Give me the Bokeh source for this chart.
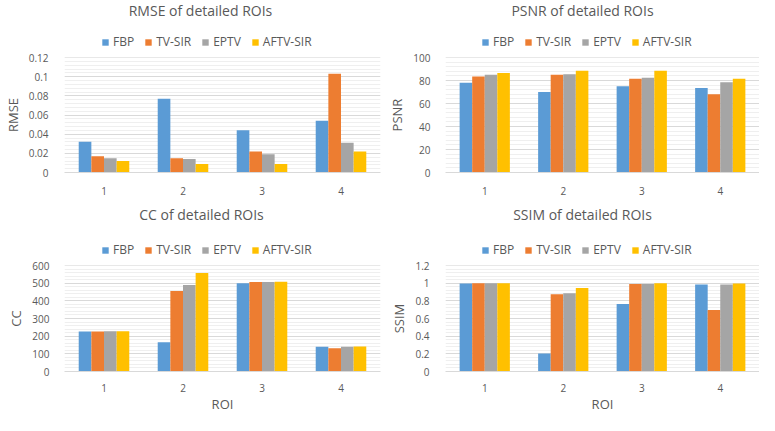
from bokeh.plotting import figure
from bokeh.layouts import gridplot
from bokeh.models import (ColumnDataSource, FactorRange, Range1d, Legend, LegendItem,
                          SingleIntervalTicker, CustomJSTickFormatter, Label)
from bokeh.transform import dodge
from bokeh.embed import file_html
from bokeh.resources import INLINE

rois = ["1", "2", "3", "4"]
methods = ["FBP", "TV-SIR", "EPTV", "AFTV-SIR"]
colors = ["#5B9BD5", "#ED7D31", "#A5A5A5", "#FFC000"]

rmse_fbp = [0.032, 0.077, 0.044, 0.054]
rmse_tv = [0.017, 0.015, 0.022, 0.103]
rmse_eptv = [0.015, 0.014, 0.019, 0.031]
rmse_aftv = [0.012, 0.009, 0.009, 0.022]

psnr_fbp = [78, 70, 75, 73.5]
psnr_tv = [83.5, 85, 81.5, 68]
psnr_eptv = [85, 85.5, 82.5, 78.5]
psnr_aftv = [86.5, 88.5, 88.5, 81.5]

cc_fbp = [226, 165, 500, 140]
cc_tv = [226, 455, 506, 132]
cc_eptv = [228, 490, 506, 140]
cc_aftv = [228, 558, 508, 142]

ssim_fbp = [0.995, 0.205, 0.765, 0.985]
ssim_tv = [0.998, 0.875, 0.99, 0.695]
ssim_eptv = [0.998, 0.885, 0.99, 0.985]
ssim_aftv = [0.998, 0.945, 1.0, 0.995]

FONT = "Open Sans"
TXT = "#595959"


def header(title, width, height, title_x, title_y, leg_x, leg_y):
    """Title and legend strip above a chart (positions in screen pixels of its frame)."""
    h = figure(width=width, height=height, x_range=Range1d(0, 1), y_range=Range1d(0, 1),
               output_backend="svg", toolbar_location=None,
               x_axis_location=None, y_axis_location=None,
               min_border_left=0, min_border_right=0, min_border_top=0, min_border_bottom=0)
    h.grid.visible = False
    h.outline_line_color = None
    items = []
    for col, name in zip(colors, methods):
        r = h.vbar(x=0, top=0, width=0, fill_color=col, line_color=None, visible=False)
        items.append(LegendItem(label=name, renderers=[r]))
    leg = Legend(items=items, orientation="horizontal", location=(leg_x, leg_y),
                 background_fill_alpha=0, border_line_color=None,
                 label_text_font=FONT, label_text_font_size="12px", label_text_color=TXT,
                 glyph_width=8, glyph_height=8, label_standoff=4, spacing=10, padding=0, margin=0,
                 label_height=12, label_width=0)
    h.add_layout(leg, "center")
    h.add_layout(Label(x=title_x, y=title_y, x_units="screen", y_units="screen", text=title,
                       text_align="center", text_baseline="middle",
                       text_font=FONT, text_font_size="14px", text_color=TXT))
    return h


def chart(ylabel, series, ymax, step, width, height, bl, br, bt, bb, ystand, xlabel=None, xstand=8):
    src = ColumnDataSource(dict(roi=rois, a=series[0], b=series[1], c=series[2], d=series[3]))
    p = figure(width=width, height=height, x_range=FactorRange(*rois),
               y_range=Range1d(0, ymax * 1.000001),
               output_backend="svg", toolbar_location=None,
               min_border_left=bl, min_border_right=br, min_border_top=bt, min_border_bottom=bb)
    p.outline_line_color = None
    offs = [-0.24, -0.08, 0.08, 0.24]
    for k, col, off in zip(["a", "b", "c", "d"], colors, offs):
        p.vbar(x=dodge("roi", off, range=p.x_range), top=k, width=0.16, source=src,
               fill_color=col, line_color=None)
    p.yaxis.ticker = SingleIntervalTicker(interval=step, num_minor_ticks=5)
    p.yaxis.formatter = CustomJSTickFormatter(code="return String(Number(tick.toFixed(4)));")
    p.ygrid.grid_line_color = "#D9D9D9"
    p.ygrid.minor_grid_line_color = "#EFEFEF"
    p.xgrid.grid_line_color = None
    for ax in (p.xaxis, p.yaxis):
        ax.major_tick_line_color = None
        ax.minor_tick_line_color = None
        ax.major_label_text_font = FONT
        ax.major_label_text_font_size = "10px"
        ax.major_label_text_color = TXT
        ax.axis_label_text_font = FONT
        ax.axis_label_text_font_size = "13px"
        ax.axis_label_text_font_style = "normal"
        ax.axis_label_text_color = TXT
    p.yaxis.axis_line_color = None
    p.xaxis.axis_line_color = "#D9D9D9"
    p.yaxis.axis_label = ylabel
    p.yaxis.major_label_standoff = ystand
    p.yaxis.axis_label_standoff = 4
    p.xaxis.major_label_standoff = xstand
    if xlabel:
        p.xaxis.axis_label = xlabel
        p.xaxis.axis_label_standoff = 0
    return p


WL, WR = 385, 374
H1, H2, H3, H4 = 50, 149, 59, 157
LB, LR = 57, 5      # left column borders (frames are aligned in the grid)
RB, RR = 49, 0      # right column borders

h1 = header("RMSE of detailed ROIs", WL, H1, 136, H1 - 10, 37, 0)
h2 = header("PSNR of detailed ROIs", WR, H1, 137, H1 - 10, 36, 0)
c1 = chart("RMSE", [rmse_fbp, rmse_tv, rmse_eptv, rmse_aftv], 0.12, 0.02,
           WL, H2, LB, LR, 7, 27, 10)
c2 = chart("PSNR", [psnr_fbp, psnr_tv, psnr_eptv, psnr_aftv], 100, 20,
           WR, H2, RB, RR, 7, 27, 9)
h3 = header("CC of detailed ROIs", WL, H3, 137, H3 - 15, 37, 0)
h4 = header("SSIM of detailed ROIs", WR, H3, 137, H3 - 15, 36, 0)
c3 = chart("CC", [cc_fbp, cc_tv, cc_eptv, cc_aftv], 600, 100,
           WL, H4, LB, LR, 7, 34, 9, xlabel="ROI", xstand=6)
c4 = chart("SSIM", [ssim_fbp, ssim_tv, ssim_eptv, ssim_aftv], 1.2, 0.2,
           WR, H4, RB, RR, 7, 34, 10, xlabel="ROI", xstand=6)

grid = gridplot([[h1, h2], [c1, c2], [h3, h4], [c3, c4]], toolbar_location=None)
open("out.html", "w").write(file_html(grid, INLINE))
